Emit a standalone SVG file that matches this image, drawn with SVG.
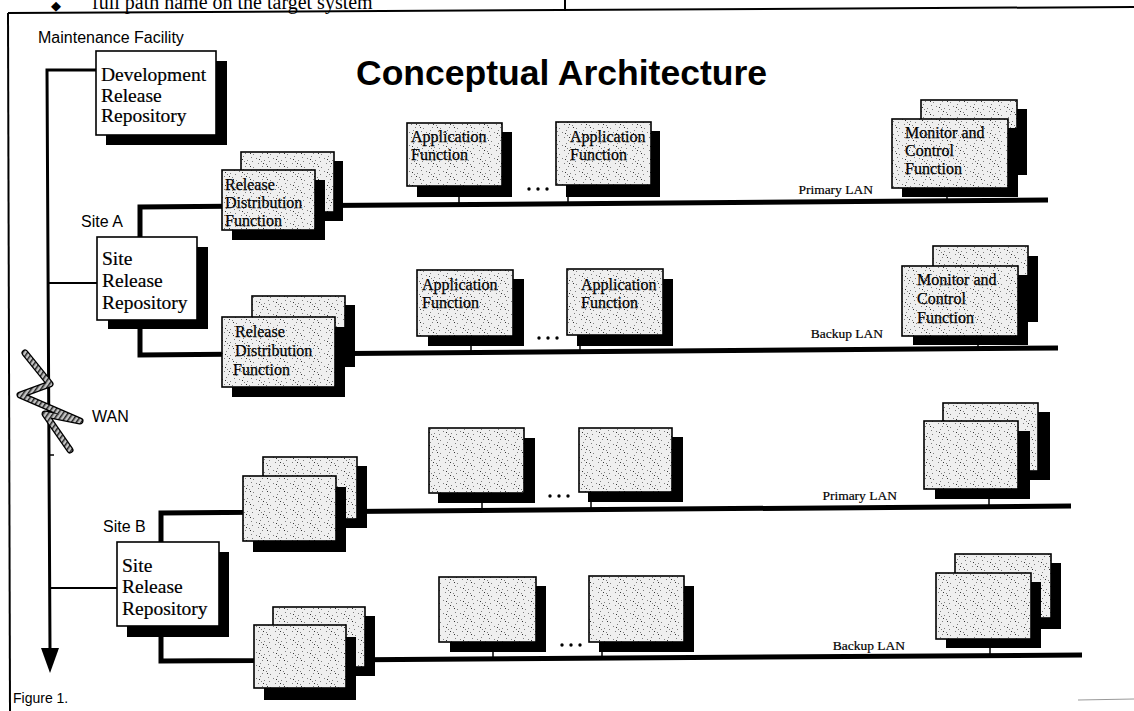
<svg xmlns="http://www.w3.org/2000/svg" width="1134" height="711" viewBox="0 0 1134 711">
<defs>
<pattern id="st" width="17" height="13" patternUnits="userSpaceOnUse">
<rect width="17" height="13" fill="#efefef"/>
<g fill="#808080">
<rect x="1" y="2" width="1" height="1"/><rect x="5" y="0" width="1" height="1"/><rect x="9" y="4" width="1" height="1"/><rect x="13" y="1" width="1" height="1"/><rect x="3" y="7" width="1" height="1"/><rect x="7" y="10" width="1" height="1"/><rect x="11" y="8" width="1" height="1"/><rect x="15" y="11" width="1" height="1"/><rect x="14" y="5" width="1" height="1"/><rect x="6" y="5" width="1" height="1"/>
</g>
<g fill="#333"><rect x="4" y="3" width="1" height="1"/><rect x="12" y="10" width="1" height="1"/><rect x="8" y="7" width="1" height="1"/></g>
</pattern>
<pattern id="hatch" width="4" height="4" patternUnits="userSpaceOnUse" patternTransform="rotate(35)">
<rect width="4" height="4" fill="#c4c4c4"/><rect width="1.5" height="4" fill="#222"/>
</pattern>
<style>
.box{fill:url(#st);stroke:#000;stroke-width:1.6}
.wbox{fill:#fff;stroke:#000;stroke-width:1.6}
.sh{fill:#000}
.lan{fill:none;stroke:#000;stroke-width:5}
.bus{fill:none;stroke:#000;stroke-width:3}
.thin{fill:none;stroke:#000;stroke-width:2}
.stem{stroke:#000;stroke-width:1.5}
.t{font-family:"Liberation Serif",serif;font-size:16px;fill:#000;stroke:#000;stroke-width:0.25}
.tr{font-family:"Liberation Serif",serif;font-size:19.5px;fill:#000;stroke:#000;stroke-width:0.2}
.s{font-family:"Liberation Sans",Arial,sans-serif;font-size:16px;fill:#000}
.ll{font-family:"Liberation Serif",serif;font-size:13.5px;fill:#000;text-anchor:end;stroke:#000;stroke-width:0.2}
</style>
</defs>
<rect width="1134" height="711" fill="#fff"/>

<g id="page">
<text x="51" y="10" font-family="Liberation Serif,serif" font-size="13">◆</text>
<text x="92" y="9" font-family="Liberation Serif,serif" font-size="20">full path name on the target system</text>
<line x1="8" y1="13" x2="1134" y2="7" stroke="#000" stroke-width="2"/>
<line x1="565" y1="0" x2="565" y2="11" stroke="#000" stroke-width="2"/>
<line x1="8" y1="13" x2="10" y2="711" stroke="#000" stroke-width="2"/>
<line x1="1078" y1="700" x2="1134" y2="699" stroke="#999" stroke-width="1"/>
<text x="356" y="85" font-family="Liberation Sans,Arial,sans-serif" font-size="35.5" font-weight="bold">Conceptual Architecture</text>
<text class="s" x="38" y="43">Maintenance Facility</text>
<text class="s" x="81" y="227">Site A</text>
<text class="s" x="103" y="532">Site B</text>
<text class="s" x="92" y="422">WAN</text>
<text x="13" y="703" font-family="Liberation Sans,Arial,sans-serif" font-size="14">Figure 1.</text>
<text class="ll" x="873" y="194">Primary LAN</text>
<text class="ll" x="883" y="338">Backup LAN</text>
<text class="ll" x="897" y="500">Primary LAN</text>
<text class="ll" x="905" y="650">Backup LAN</text>
</g>

<g id="connectors">
<polyline class="bus" points="96,70 47,70 50,650"/>
<polygon points="41,648 59,648 50,673" fill="#000"/>
<line class="thin" x1="48" y1="283" x2="97" y2="283"/>
<line class="thin" x1="50" y1="588" x2="117" y2="588"/>
<line x1="50" y1="455" x2="54" y2="455" stroke="#000" stroke-width="1.5"/>
<path d="M25,353 L50,384 L20,395 L80,421 L45,414 L70,450" fill="none" stroke="#000" stroke-width="7" stroke-linejoin="round" stroke-linecap="round"/>
<path d="M25,353 L50,384 L20,395 L80,421 L45,414 L70,450" fill="none" stroke="url(#hatch)" stroke-width="4.5" stroke-linejoin="round" stroke-linecap="round"/>
<polyline class="lan" points="140,239 140,207 1048,200"/>
<polyline class="lan" points="140,327 140,355 1058,348"/>
<polyline class="lan" points="161,544 161,513 1071,506"/>
<polyline class="lan" points="161,635 161,661 1082,655"/>
<line class="stem" x1="459" y1="195" x2="459" y2="205"/>
<line class="stem" x1="568" y1="195" x2="568" y2="204"/>
<line class="stem" x1="947" y1="184" x2="947" y2="201"/>
<line class="stem" x1="471" y1="344" x2="471" y2="353"/>
<line class="stem" x1="580" y1="344" x2="580" y2="352"/>
<line class="stem" x1="978" y1="332" x2="978" y2="349"/>
<line class="stem" x1="482" y1="501" x2="482" y2="511"/>
<line class="stem" x1="591" y1="500" x2="591" y2="510"/>
<line class="stem" x1="989" y1="485" x2="989" y2="507"/>
<line class="stem" x1="493" y1="650" x2="493" y2="659"/>
<line class="stem" x1="602" y1="650" x2="602" y2="658"/>
<line class="stem" x1="990" y1="635" x2="990" y2="656"/>
<g fill="#000">
<circle cx="529" cy="189" r="1.7"/><circle cx="538" cy="189" r="1.7"/><circle cx="547" cy="189" r="1.7"/>
<circle cx="539" cy="338" r="1.7"/><circle cx="548" cy="338" r="1.7"/><circle cx="557" cy="338" r="1.7"/>
<circle cx="550" cy="496" r="1.7"/><circle cx="559" cy="496" r="1.7"/><circle cx="568" cy="496" r="1.7"/>
<circle cx="562" cy="645" r="1.7"/><circle cx="571" cy="645" r="1.7"/><circle cx="580" cy="645" r="1.7"/>
</g>
</g>

<g id="dev-repo">
<rect class="sh" x="106" y="61" width="121" height="84"/>
<rect class="wbox" x="96" y="51" width="120" height="84"/>
<text class="tr" x="101" y="81">Development</text>
<text class="tr" x="101" y="102">Release</text>
<text class="tr" x="101" y="122">Repository</text>
</g>

<g id="siteA-repo">
<rect class="sh" x="108" y="247" width="100" height="82"/>
<rect class="wbox" x="97" y="237" width="100" height="83"/>
<text class="tr" x="102" y="265">Site</text>
<text class="tr" x="102" y="287">Release</text>
<text class="tr" x="102" y="309">Repository</text>
</g>

<g id="siteB-repo">
<rect class="sh" x="127" y="552" width="102" height="85"/>
<rect class="wbox" x="117" y="542" width="102" height="84"/>
<text class="tr" x="122" y="572">Site</text>
<text class="tr" x="122" y="593">Release</text>
<text class="tr" x="122" y="615">Repository</text>
</g>

<g id="siteA-dist-primary">
<rect class="sh" x="250" y="161" width="93" height="60"/>
<rect class="box" x="241" y="152" width="93" height="60"/>
<rect class="sh" x="232" y="180" width="93" height="60"/>
<rect class="box" x="222" y="170" width="93" height="60"/>
<text class="t" x="225" y="190">Release</text>
<text class="t" x="225" y="208">Distribution</text>
<text class="t" x="225" y="226">Function</text>
</g>

<g id="siteA-dist-backup">
<rect class="sh" x="262" y="305" width="93" height="62"/>
<rect class="box" x="252" y="296" width="93" height="62"/>
<rect class="sh" x="232" y="327" width="113" height="70"/>
<rect class="box" x="222" y="317" width="113" height="70"/>
<text class="t" x="235" y="337">Release</text>
<text class="t" x="235" y="356">Distribution</text>
<text class="t" x="233" y="375">Function</text>
</g>

<g id="siteA-app1-primary">
<rect class="sh" x="417" y="132" width="95" height="65"/>
<rect class="box" x="407" y="123" width="95" height="63"/>
<text class="t" x="411" y="142">Application</text>
<text class="t" x="411" y="160">Function</text>
</g>
<g id="siteA-app2-primary">
<rect class="sh" x="566" y="131" width="94" height="66"/>
<rect class="box" x="556" y="122" width="95" height="63"/>
<text class="t" x="570" y="142">Application</text>
<text class="t" x="570" y="160">Function</text>
</g>
<g id="siteA-mon-primary">
<rect class="sh" x="931" y="109" width="96" height="66"/>
<rect class="box" x="921" y="100" width="96" height="66"/>
<rect class="sh" x="902" y="128" width="116" height="69"/>
<rect class="box" x="892" y="119" width="116" height="69"/>
<text class="t" x="905" y="138">Monitor and</text>
<text class="t" x="905" y="156">Control</text>
<text class="t" x="905" y="174">Function</text>
</g>

<g id="siteA-app1-backup">
<rect class="sh" x="428" y="279" width="96" height="67"/>
<rect class="box" x="417" y="270" width="96" height="66"/>
<text class="t" x="422" y="290">Application</text>
<text class="t" x="422" y="308">Function</text>
</g>
<g id="siteA-app2-backup">
<rect class="sh" x="577" y="279" width="96" height="67"/>
<rect class="box" x="567" y="269" width="96" height="66"/>
<text class="t" x="581" y="290">Application</text>
<text class="t" x="581" y="308">Function</text>
</g>
<g id="siteA-mon-backup">
<rect class="sh" x="943" y="256" width="95" height="66"/>
<rect class="box" x="933" y="246" width="95" height="66"/>
<rect class="sh" x="913" y="275" width="115" height="70"/>
<rect class="box" x="902" y="266" width="116" height="70"/>
<text class="t" x="917" y="285">Monitor and</text>
<text class="t" x="917" y="304">Control</text>
<text class="t" x="917" y="323">Function</text>
</g>

<g id="siteB-dist-primary">
<rect class="sh" x="273" y="466" width="94" height="62"/>
<rect class="box" x="263" y="457" width="94" height="62"/>
<rect class="sh" x="253" y="487" width="93" height="65"/>
<rect class="box" x="243" y="476" width="93" height="65"/>
</g>
<g id="siteB-dist-backup">
<rect class="sh" x="283" y="616" width="92" height="60"/>
<rect class="box" x="273" y="607" width="92" height="60"/>
<rect class="sh" x="264" y="637" width="92" height="63"/>
<rect class="box" x="254" y="625" width="92" height="63"/>
</g>
<g id="siteB-app1-primary">
<rect class="sh" x="438" y="438" width="97" height="65"/>
<rect class="box" x="429" y="428" width="95" height="65"/>
</g>
<g id="siteB-app2-primary">
<rect class="sh" x="588" y="437" width="95" height="65"/>
<rect class="box" x="579" y="428" width="93" height="64"/>
</g>
<g id="siteB-mon-primary">
<rect class="sh" x="955" y="412" width="95" height="68"/>
<rect class="box" x="943" y="403" width="95" height="68"/>
<rect class="sh" x="935" y="431" width="95" height="68"/>
<rect class="box" x="924" y="421" width="94" height="68"/>
</g>
<g id="siteB-app1-backup">
<rect class="sh" x="450" y="586" width="96" height="66"/>
<rect class="box" x="439" y="577" width="97" height="65"/>
</g>
<g id="siteB-app2-backup">
<rect class="sh" x="599" y="586" width="95" height="66"/>
<rect class="box" x="589" y="576" width="95" height="66"/>
</g>
<g id="siteB-mon-backup">
<rect class="sh" x="965" y="563" width="96" height="66"/>
<rect class="box" x="955" y="554" width="96" height="64"/>
<rect class="sh" x="946" y="582" width="95" height="66"/>
<rect class="box" x="936" y="573" width="95" height="66"/>
</g>
</svg>
